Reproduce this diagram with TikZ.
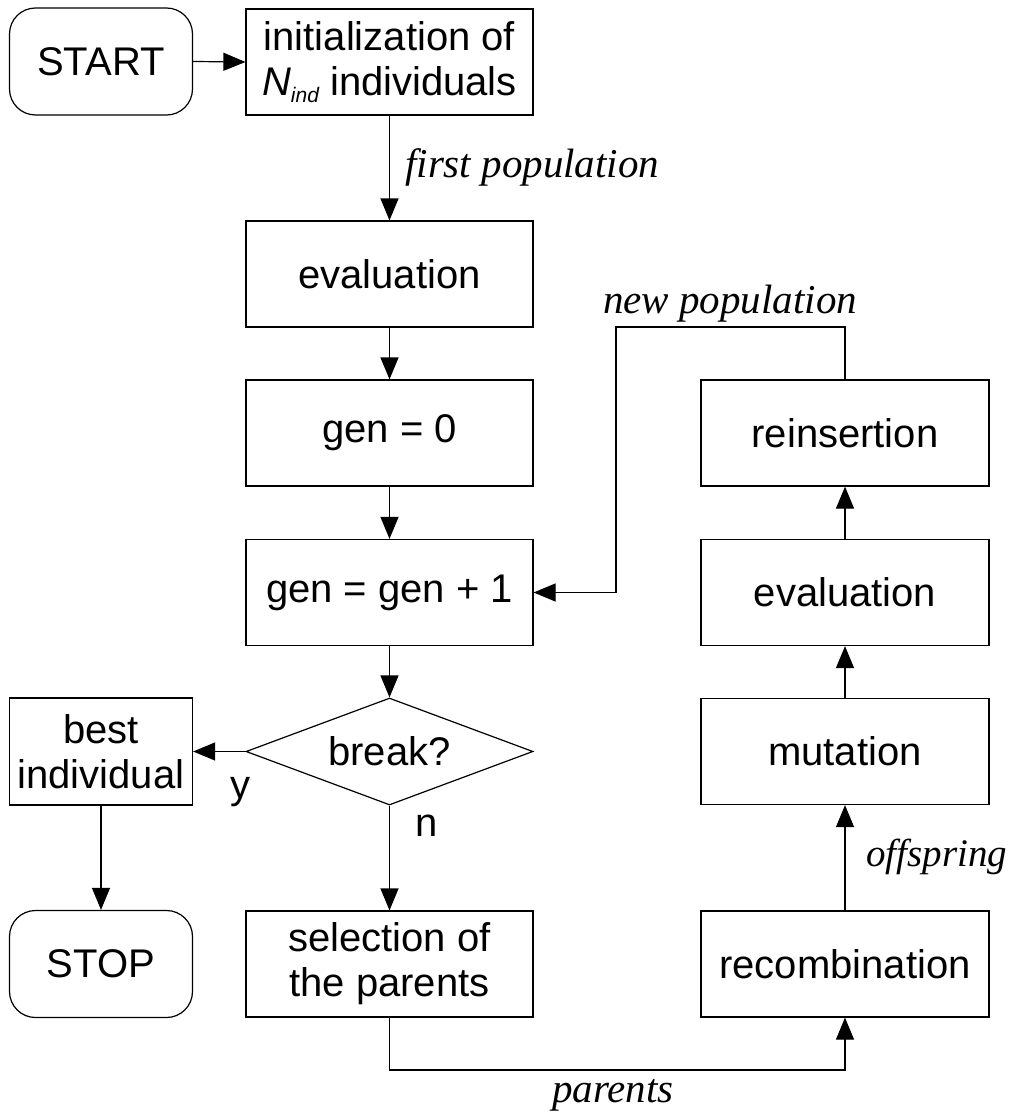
\documentclass[tikz,border=0pt]{standalone}
\usepackage{fontspec}
\setmainfont{Liberation Sans}
\newfontfamily\serifit{Liberation Serif}
\usetikzlibrary{shapes.geometric,arrows.meta}

\begin{document}
\begin{tikzpicture}[x=1pt,y=-1pt,
  every node/.style={font=\fontsize{40}{45}\selectfont},
  frame/.style={draw, line width=1.2pt, inner sep=0pt, align=center},
  mainbox/.style={frame, minimum width=287pt, minimum height=106pt},
  sidebox/.style={frame, minimum width=288pt, minimum height=106pt},
  leftbox/.style={frame, minimum width=183pt, minimum height=107pt},
  terminal/.style={leftbox, rounded corners=26pt},
  decision/.style={draw, line width=1.2pt, diamond, aspect=2.68, inner sep=0pt,
                   minimum width=287pt, minimum height=107pt},
  flow/.style={line width=1.2pt, -{Triangle[length=22pt,width=18pt]}},
  edgelabel/.style={font=\serifit\itshape\fontsize{41}{46}\selectfont, inner sep=0pt},
  answer/.style={inner sep=0pt}
]
\useasboundingbox (0,0) rectangle (1014,1113);

% main column
\node[terminal] (start) at (101,61.5) {START};
\node[mainbox]  (init)  at (389.5,62)
  {initialization of\\{\itshape N}\raisebox{-0.35ex}{\fontsize{21}{21}\selectfont\itshape ind} individuals};
\node[mainbox]  (eval1) at (389.5,274) {evaluation};
\node[mainbox]  (gen0)  at (389.5,433) {gen = 0};
\node[mainbox]  (gen1)  at (389.5,592.5) {gen = gen + 1};
\node[decision] (brk)   at (389.5,751.5) {break?};
\node[mainbox]  (sel)   at (389.5,964) {selection of\\the parents};

% left column
\node[leftbox]  (best)  at (101,751.5) {best\\individual};
\node[terminal] (stop)  at (101,964) {STOP};

% right column
\node[sidebox]  (recomb) at (845,964) {recombination};
\node[sidebox]  (mut)    at (845,751.5) {mutation};
\node[sidebox]  (eval2)  at (845,592.5) {evaluation};
\node[sidebox]  (reins)  at (845,433) {reinsertion};

% connectors
\draw[flow] (start.east) -- (init.west);
\draw[flow] (init) -- (eval1);
\draw[flow] (eval1) -- (gen0);
\draw[flow] (gen0) -- (gen1);
\draw[flow] (gen1) -- (brk);
\draw[flow] (brk.west) -- (best.east);
\draw[flow] (best) -- (stop);
\draw[flow] (brk.south) -- (sel.north);
\draw[flow] (recomb) -- (mut);
\draw[flow] (mut) -- (eval2);
\draw[flow] (eval2) -- (reins);

\coordinate (npA) at (845,327);
\coordinate (npB) at (616,327);
\draw[flow] (reins.north) -- (npA) -- (npB) |- (gen1.east);

\coordinate (pa) at (389.5,1070);
\draw[flow] (sel.south) -- (pa) -| (recomb.south);

% labels
\node[edgelabel, anchor=base west] (lfirst) at (405,177) {first population};
\node[edgelabel, anchor=base] (lnew) at (730,313) {new population};
\node[edgelabel, anchor=base] (lpar) at (613,1102) {parents};
\node[edgelabel, anchor=base west, font=\serifit\itshape\fontsize{39}{44}\selectfont]
  (loff) at (866,866) {offspring};
\node[answer, anchor=base] (ly) at (240,798) {y};
\node[answer, anchor=base] (ln) at (427,836) {n};
\end{tikzpicture}
\end{document}
